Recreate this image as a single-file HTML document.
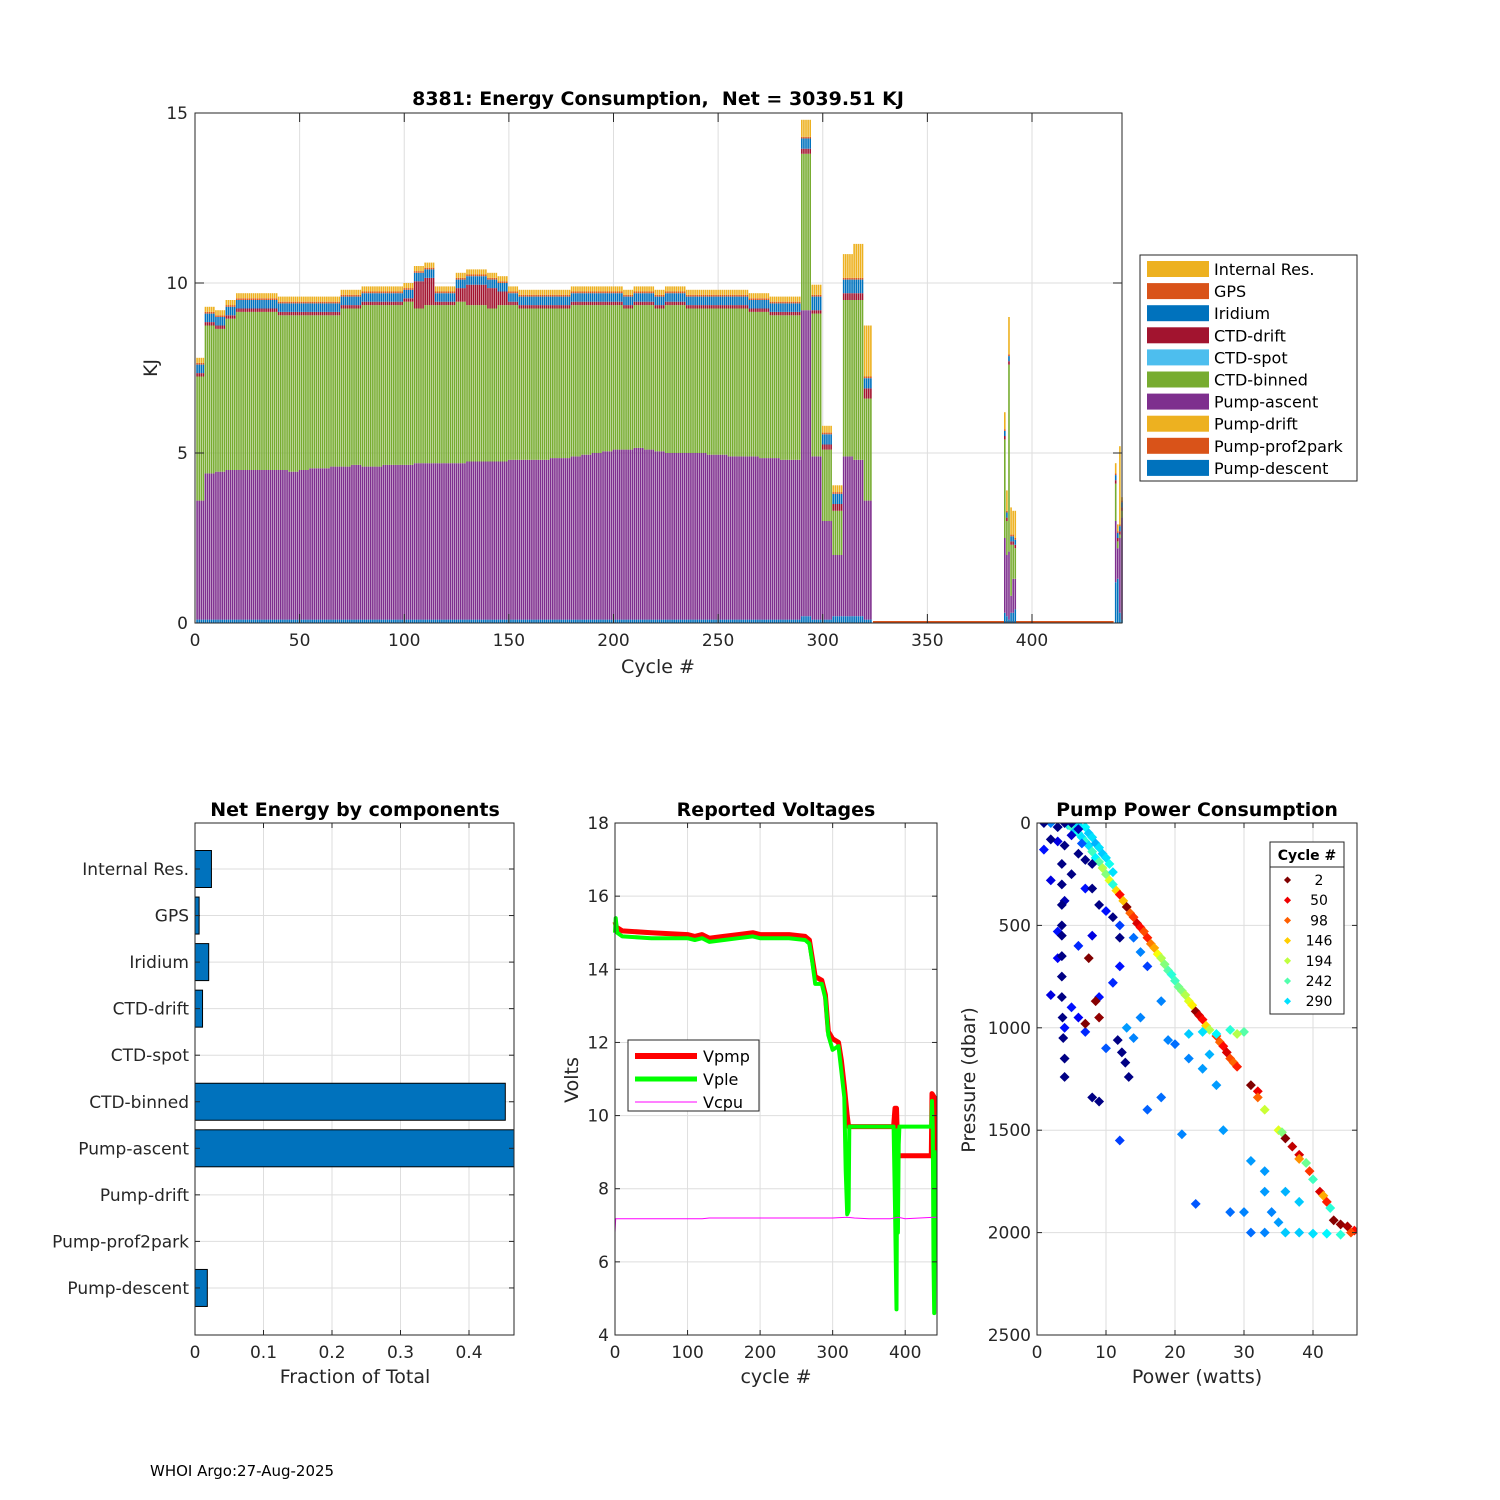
<!DOCTYPE html>
<html><head><meta charset="utf-8"><style>
html,body{margin:0;padding:0;background:#fff;}
svg{display:block;font-family:"DejaVu Sans","Liberation Sans",sans-serif;}
</style></head><body>
<svg id="fig" width="1500" height="1500" viewBox="0 0 1500 1500" xmlns="http://www.w3.org/2000/svg">
<rect width="1500" height="1500" fill="#fff"/>
<text x="150" y="1476" font-size="15" fill="#000">WHOI Argo:27-Aug-2025</text>
</svg>
<script>
// ===== Energy chart data (5-cycle blocks, cycles 1..323) =====
const blockAsc=[3.5,4.3,4.35,4.4,4.4,4.4,4.4,4.4,4.4,4.35,4.4,4.45,4.45,4.5,4.5,4.55,4.5,4.5,4.55,4.55,4.55,4.6,4.6,4.6,4.6,4.6,4.65,4.65,4.65,4.65,4.7,4.7,4.7,4.7,4.75,4.75,4.8,4.85,4.9,4.95,5.0,5.0,5.05,5.0,4.95,4.9,4.9,4.9,4.9,4.85,4.85,4.8,4.8,4.8,4.75,4.75,4.7,4.7,9.0,4.8,2.9,1.8,4.7,4.6,3.5];
const blockBinned=[3.65,4.35,4.2,4.45,4.65,4.65,4.65,4.65,4.55,4.6,4.55,4.5,4.5,4.45,4.65,4.6,4.75,4.75,4.7,4.7,4.8,4.55,4.65,4.65,4.65,4.75,4.6,4.6,4.5,4.6,4.55,4.45,4.45,4.45,4.4,4.4,4.45,4.4,4.35,4.3,4.25,4.15,4.2,4.25,4.2,4.35,4.35,4.25,4.25,4.3,4.3,4.35,4.35,4.25,4.3,4.2,4.25,4.25,4.6,4.2,2.1,1.3,4.6,4.7,3.0];
const blockDrift=[0.1,0.1,0.1,0.1,0.1,0.1,0.1,0.1,0.1,0.1,0.1,0.1,0.1,0.1,0.1,0.1,0.1,0.1,0.1,0.1,0.1,0.8,0.8,0.1,0.1,0.4,0.6,0.6,0.6,0.4,0.1,0.1,0.1,0.1,0.1,0.1,0.1,0.1,0.1,0.1,0.1,0.1,0.1,0.1,0.1,0.1,0.1,0.1,0.1,0.1,0.1,0.1,0.1,0.1,0.1,0.1,0.1,0.1,0.15,0.1,0.15,0.2,0.2,0.2,0.3];
const blockIrid=[0.25,0.25,0.25,0.25,0.25,0.25,0.25,0.25,0.25,0.25,0.25,0.25,0.25,0.25,0.25,0.25,0.25,0.25,0.25,0.25,0.25,0.25,0.25,0.25,0.25,0.25,0.25,0.25,0.25,0.25,0.25,0.25,0.25,0.25,0.25,0.25,0.25,0.25,0.25,0.25,0.25,0.25,0.25,0.25,0.25,0.25,0.25,0.25,0.25,0.25,0.25,0.25,0.25,0.25,0.25,0.25,0.25,0.25,0.3,0.4,0.3,0.3,0.4,0.4,0.3];
const blockResid=[0.15,0.15,0.15,0.15,0.15,0.15,0.15,0.15,0.15,0.15,0.15,0.15,0.15,0.15,0.15,0.15,0.15,0.15,0.15,0.15,0.15,0.15,0.15,0.15,0.15,0.15,0.15,0.15,0.15,0.15,0.15,0.15,0.15,0.15,0.15,0.15,0.15,0.15,0.15,0.15,0.15,0.15,0.15,0.15,0.15,0.15,0.15,0.15,0.15,0.15,0.15,0.15,0.15,0.15,0.15,0.15,0.15,0.15,0.5,0.3,0.2,0.2,0.7,1.0,1.5];
const blockDesc=[0.1,0.1,0.1,0.1,0.1,0.1,0.1,0.1,0.1,0.1,0.1,0.1,0.1,0.1,0.1,0.1,0.1,0.1,0.1,0.1,0.1,0.1,0.1,0.1,0.1,0.1,0.1,0.1,0.1,0.1,0.1,0.1,0.1,0.1,0.1,0.1,0.1,0.1,0.1,0.1,0.1,0.1,0.1,0.1,0.1,0.1,0.1,0.1,0.1,0.1,0.1,0.1,0.1,0.1,0.1,0.1,0.1,0.1,0.2,0.1,0.1,0.2,0.2,0.2,0.1];
const lastFullCycle=323;
const lateCyc=[387,388,389,390,391,392,440,441,442,443];
const lateDesc=[0.3,0.2,0.1,0.3,0.3,0.4,1.2,1.3,0.3,0.1];
const lateAsc=[2.2,1.8,2.0,0.5,1.0,0.9,1.8,0.9,2.2,3.0];
const lateBin=[2.9,1.0,5.5,1.5,1.0,0.9,1.1,0.2,0.1,0.2];
const lateResid=[0.5,0.6,1.1,0.8,0.7,0.8,0.3,0.2,2.3,0.1];
const energyXTicks=[0,50,100,150,200,250,300,350,400];
const energyYTicks=[0,5,10,15];
// ===== Fraction data =====
const compNames=["Internal Res.","GPS","Iridium","CTD-drift","CTD-spot","CTD-binned","Pump-ascent","Pump-drift","Pump-prof2park","Pump-descent"];
const compFrac=[0.024,0.006,0.020,0.011,0.0,0.453,0.47,0.0,0.0,0.018];
const fracTicks=[0,0.1,0.2,0.3,0.4];
// ===== Voltages =====
const pmpCyc=[0,2,10,50,100,110,120,130,150,170,190,200,240,262,268,272,276,285,290,294,300,308,312,316,320,322,323,384,386,388,390,392,436,437,440,441,443];
const pmpVal=[15.3,15.15,15.05,15.0,14.95,14.9,14.95,14.85,14.9,14.95,15.0,14.95,14.95,14.9,14.8,14.3,13.8,13.7,13.3,12.3,12.1,12.0,11.5,10.8,10.0,9.7,9.7,9.7,10.2,10.2,8.9,8.9,8.9,10.6,10.5,8.0,8.0];
const pleCyc=[0,1,3,10,50,100,110,120,130,150,170,190,200,240,262,268,272,276,285,290,294,300,308,312,316,318,320,322,323,384,386,388,389,390,391,392,436,437,438,439,440,441,443];
const pleVal=[15.0,15.4,15.0,14.9,14.85,14.85,14.8,14.85,14.75,14.8,14.85,14.9,14.85,14.85,14.8,14.7,14.2,13.6,13.6,13.2,12.2,11.8,11.9,11.2,10.5,8.5,7.3,7.4,9.7,9.7,7.5,4.7,9.6,6.8,9.2,9.7,9.7,10.4,9.6,6.0,4.6,9.0,9.0];
const cpuCyc=[0,1,120,130,200,250,300,320,330,350,380,390,400,420,440,443];
const cpuVal=[6.8,7.18,7.18,7.2,7.2,7.2,7.2,7.22,7.2,7.18,7.18,7.22,7.18,7.2,7.22,7.22];
const voltXTicks=[0,100,200,300,400];
const voltYTicks=[4,6,8,10,12,14,16,18];
// ===== Pump power scatter =====
const ptPower=[4.5,5,5.5,6,6.5,7,7.5,8,8.5,9,9.5,10,10.5,11,11.5,12,12.5,13,13.5,14,14.5,15,15.5,16,16.5,17,17.5,18,18.5,19,19.5,20,20.5,21,21.5,22,22.5,23,23.5,24,24.5,25,26,26.5,27,27.5,28,28.5,29,31,32,32,33,35,35.5,36,37,38,38,39,39.5,40,41,41.5,42,42.5,43,44,45,46,45.5,
6,7,7.5,8,8.5,9,9.5,10,10.5,11,22,24,26,28,30,29,36,38,40,42,44,
2,3,4,5,6,1,3,5,6.5,2,7,4,3,6,8,10,12,14,15,16,18,15,14,10,13,19,20,22,24,25,26,18,16,12,21,27,23,28,31,33,30,33,36,38,35,33,31,34,5,6,4,7,9,11,12,3,2,
1,3,2,4,3.6,3.6,3.6,3.6,3.6,3.6,3.6,3.6,3.7,3.8,4,4,5,7,8,9,11,12,11.7,12.3,12.8,13.3,8,9,6,8,
7.5,8.5,9,7];
const ptPress=[10,20,40,50,70,90,110,140,170,190,220,250,280,300,330,350,380,410,440,460,490,510,530,560,590,610,640,660,690,720,740,770,800,820,840,870,890,920,940,960,990,1010,1040,1070,1090,1120,1150,1170,1190,1280,1310,1340,1400,1500,1510,1540,1580,1620,1640,1660,1700,1740,1800,1820,1850,1880,1940,1960,1970,1990,2000,
10,20,50,70,100,120,150,170,200,240,1030,1020,1030,1010,1020,1030,2000,2000,2005,2005,2010,
0,20,0,0,30,130,90,60,100,280,320,380,530,600,550,430,500,560,630,700,870,950,1050,1100,1000,1060,1080,1150,1200,1130,1280,1340,1400,1550,1520,1500,1860,1900,1650,1700,1900,1800,1800,1850,1950,2000,2000,1900,900,950,1000,1020,850,780,700,660,840,
0,20,80,110,200,300,400,500,550,650,750,850,950,1050,1150,1240,250,180,320,400,460,560,1060,1120,1170,1240,1340,1360,150,200,
660,870,950,980];
const ptCycle=[290,250,300,270,290,260,290,250,280,240,200,220,180,260,150,60,140,2,100,80,40,60,90,70,110,130,170,200,220,240,260,250,230,220,200,180,160,10,40,60,150,200,80,100,60,40,90,100,70,2,50,100,190,180,220,5,30,40,120,230,80,250,40,130,70,260,5,10,20,60,90,
290,280,300,290,310,290,300,290,270,290,300,290,280,260,240,200,300,300,290,280,260,
330,350,440,430,420,380,400,410,350,400,380,420,380,370,400,380,360,340,330,360,330,330,330,350,320,330,340,330,320,310,320,340,345,360,330,320,350,340,320,320,330,320,310,300,320,330,340,330,380,390,380,370,380,370,380,390,400,
440,440,440,440,440,440,440,440,440,440,440,440,440,440,440,440,440,440,440,440,440,440,440,440,440,440,440,440,440,440,
2,5,10,2];
const legCycles=[2,50,98,146,194,242,290];
const powXTicks=[0,10,20,30,40];
const presYTicks=[0,500,1000,1500,2000,2500];

const NS="http://www.w3.org/2000/svg";
const fig=document.getElementById('fig');
function el(tag,attrs,parent){const e=document.createElementNS(NS,tag);for(const k in attrs)e.setAttribute(k,attrs[k]);(parent||fig).appendChild(e);return e;}
function txt(s,x,y,size,anchor,parent,extra){const t=el('text',Object.assign({x:x,y:y,'font-size':size,'text-anchor':anchor||'middle',fill:'#262626'},extra||{}),parent);t.textContent=s;return t;}
const GRID='#dedede',AX='#262626';

// ================= ENERGY CHART =================
const eL=195,eR=1122,eT=113,eB=623;
const xE=c=>eL+c*2.0925, yE=v=>eB-v*34;
const gE=el('g',{});


energyXTicks.forEach(t=>{el('line',{x1:xE(t),x2:xE(t),y1:eT,y2:eB,stroke:GRID},gE);});
energyYTicks.forEach(t=>{el('line',{x1:eL,x2:eR,y1:yE(t),y2:yE(t),stroke:GRID},gE);});
const cols={desc:'#0072BD',asc:'#7E2F8E',bin:'#77AC30',drift:'#A2142F',irid:'#0072BD',gps:'#D95319',resid:'#EDB120'};
const bw=1.6;
function stackBar(c,segs){let base=0;segs.forEach(s=>{if(s[0]<=0)return;const r=el('rect',{x:xE(c)-bw/2,y:yE(base+s[0]),width:bw,height:s[0]*34,fill:s[1]},gE);


base+=s[0];});}
blockAsc.forEach((a,b)=>{for(let k=0;k<5;k++){const c=b*5+k;if(c<1||c>lastFullCycle)continue;
stackBar(c,[[blockDesc[b],cols.desc],[a,cols.asc],[blockBinned[b],cols.bin],[blockDrift[b],cols.drift],[blockIrid[b],cols.irid],[0.05,cols.gps],[blockResid[b],cols.resid]]);}});
const zeroLine=el('line',{x1:xE(lastFullCycle+1),x2:xE(439),y1:eB-1,y2:eB-1,stroke:'#D95319','stroke-width':2},gE);


lateCyc.forEach((c,i)=>{stackBar(c,[[lateDesc[i],cols.desc],[lateAsc[i],cols.asc],[lateBin[i],cols.bin],[0.1,cols.drift],[0.15,cols.irid],[0.05,cols.gps],[lateResid[i],cols.resid]]);});
el('rect',{x:eL,y:eT,width:eR-eL,height:eB-eT,fill:'none',stroke:AX,'stroke-width':1},gE);
energyXTicks.forEach(t=>{el('line',{x1:xE(t),x2:xE(t),y1:eB,y2:eB-9,stroke:AX},gE);el('line',{x1:xE(t),x2:xE(t),y1:eT,y2:eT+9,stroke:AX},gE);
const l=txt(String(t),xE(t),eB+23,17,'middle',gE);

});
energyYTicks.forEach(t=>{el('line',{x1:eL,x2:eL+9,y1:yE(t),y2:yE(t),stroke:AX},gE);el('line',{x1:eR,x2:eR-9,y1:yE(t),y2:yE(t),stroke:AX},gE);
const l=txt(String(t),eL-7,yE(t)+6,17,'end',gE);

});
const eTitle=txt('8381: Energy Consumption,\u00a0 Net = 3039.51 KJ',658,105,19,'middle',gE,{'font-weight':'bold',fill:'#000'});


const eXl=txt('Cycle #',658,673,19,'middle',gE);


const eYl=txt('KJ',0,0,19,'middle',gE,{transform:'translate(157,368) rotate(-90)'});


// legend
const legE=el('g',{});


el('rect',{x:1140,y:255,width:217,height:226,fill:'#fff',stroke:AX},legE);
const legCols=['#EDB120','#D95319','#0072BD','#A2142F','#4DBEEE','#77AC30','#7E2F8E','#EDB120','#D95319','#0072BD'];
compNames.forEach((n,i)=>{const y=269+i*22.1;el('rect',{x:1147,y:y-8,width:62,height:16,fill:legCols[i]},legE);
const l=txt(n,1214,y+6,16,'start',legE,{fill:'#000'});

});

// ================= FRACTION CHART =================
const fL=195,fR=514,fT=823,fB=1335;
const xF=v=>fL+v*685, yF=i=>869+i*46.55;
const gF=el('g',{});


fracTicks.forEach(t=>el('line',{x1:xF(t),x2:xF(t),y1:fT,y2:fB,stroke:GRID},gF));
compNames.forEach((n,i)=>el('line',{x1:fL,x2:fR,y1:yF(i),y2:yF(i),stroke:GRID},gF));
compFrac.forEach((v,i)=>{if(v<=0)return;const w=Math.min(xF(v),fR)-fL;const r=el('rect',{x:fL,y:yF(i)-18.5,width:w,height:37,fill:'#0072BD',stroke:'#000','stroke-width':1},gF);

});
el('rect',{x:fL,y:fT,width:fR-fL,height:fB-fT,fill:'none',stroke:AX},gF);
fracTicks.forEach(t=>{el('line',{x1:xF(t),x2:xF(t),y1:fB,y2:fB-5,stroke:AX},gF);el('line',{x1:xF(t),x2:xF(t),y1:fT,y2:fT+5,stroke:AX},gF);
const l=txt(String(t),xF(t),fB+23,17,'middle',gF);

});
compNames.forEach((n,i)=>{el('line',{x1:fL,x2:fL+5,y1:yF(i),y2:yF(i),stroke:AX},gF);el('line',{x1:fR,x2:fR-5,y1:yF(i),y2:yF(i),stroke:AX},gF);
const l=txt(n,189,yF(i)+6,17,'end',gF);

});
const fTitle=txt('Net Energy by components',355,816,19,'middle',gF,{'font-weight':'bold',fill:'#000'});


const fXl=txt('Fraction of Total',355,1383,19,'middle',gF);



// ================= VOLTAGE CHART =================
const vL=615,vR=937,vT=823,vB=1335;
const xV=c=>vL+c*0.7255, yV=v=>vB-(v-4)*36.57;
const gV=el('g',{});


voltXTicks.forEach(t=>el('line',{x1:xV(t),x2:xV(t),y1:vT,y2:vB,stroke:GRID},gV));
voltYTicks.forEach(t=>el('line',{x1:vL,x2:vR,y1:yV(t),y2:yV(t),stroke:GRID},gV));
function poly(xs,ys,color,w,name){const p=el('polyline',{points:xs.map((c,i)=>xV(c).toFixed(1)+','+yV(ys[i]).toFixed(1)).join(' '),fill:'none',stroke:color,'stroke-width':w,'stroke-linejoin':'round'},gV);

}
poly(pmpCyc,pmpVal,'#ff0000',5,'vpmp-line');
poly(pleCyc,pleVal,'#00ff00',4,'vple-line');
poly(cpuCyc,cpuVal,'#ff00ff',1,'vcpu-line');
el('rect',{x:vL,y:vT,width:vR-vL,height:vB-vT,fill:'none',stroke:AX},gV);
voltXTicks.forEach(t=>{el('line',{x1:xV(t),x2:xV(t),y1:vB,y2:vB-5,stroke:AX},gV);el('line',{x1:xV(t),x2:xV(t),y1:vT,y2:vT+5,stroke:AX},gV);
const l=txt(String(t),xV(t),vB+23,17,'middle',gV);

});
voltYTicks.forEach(t=>{el('line',{x1:vL,x2:vL+5,y1:yV(t),y2:yV(t),stroke:AX},gV);el('line',{x1:vR,x2:vR-5,y1:yV(t),y2:yV(t),stroke:AX},gV);
const l=txt(String(t),vL-6,yV(t)+6,17,'end',gV);

});
const vTitle=txt('Reported Voltages',776,816,19,'middle',gV,{'font-weight':'bold',fill:'#000'});


const vXl=txt('cycle #',776,1383,19,'middle',gV);


const vYl=txt('Volts',0,0,19,'middle',gV,{transform:'translate(578,1080) rotate(-90)'});


const legV=el('g',{});


el('rect',{x:628,y:1040,width:131,height:71,fill:'#fff',stroke:AX},legV);
[['Vpmp','#ff0000',6,1056],['Vple','#00ff00',5,1079],['Vcpu','#ff00ff',1,1102]].forEach(e=>{el('line',{x1:635,x2:697,y1:e[3],y2:e[3],stroke:e[1],'stroke-width':e[2]},legV);
const l=txt(e[0],703,e[3]+6,16,'start',legV,{fill:'#000'});

});

// ================= PUMP POWER SCATTER =================
const pL=1037,pR=1357,pT=823,pB=1335;
const xP=w=>pL+w*6.9, yP=p=>pT+p*0.2048;
const gP=el('g',{});


powXTicks.forEach(t=>el('line',{x1:xP(t),x2:xP(t),y1:pT,y2:pB,stroke:GRID},gP));
presYTicks.forEach(t=>el('line',{x1:pL,x2:pR,y1:yP(t),y2:yP(t),stroke:GRID},gP));
function jet(t){const r=Math.min(Math.max(Math.min(4*t-1.5,-4*t+4.5),0),1),g=Math.min(Math.max(Math.min(4*t-0.5,-4*t+3.5),0),1),b=Math.min(Math.max(Math.min(4*t+0.5,-4*t+2.5),0),1);return 'rgb('+Math.round(r*255)+','+Math.round(g*255)+','+Math.round(b*255)+')';}
const cycColor=c=>jet(1-(c-2)/440);
const cp=el('clipPath',{id:'pclip'},gP);el('rect',{x:pL,y:pT,width:pR-pL,height:pB-pT},cp);
const gPts=el('g',{'clip-path':'url(#pclip)'},gP);
ptPower.forEach((w,i)=>{const m=el('rect',{x:xP(w)-3.5,y:yP(ptPress[i])-3.5,width:7,height:7,fill:cycColor(ptCycle[i]),transform:'rotate(45 '+xP(w)+' '+yP(ptPress[i])+')'},gPts);

});
el('rect',{x:pL,y:pT,width:pR-pL,height:pB-pT,fill:'none',stroke:AX},gP);
powXTicks.forEach(t=>{el('line',{x1:xP(t),x2:xP(t),y1:pB,y2:pB-5,stroke:AX},gP);el('line',{x1:xP(t),x2:xP(t),y1:pT,y2:pT+5,stroke:AX},gP);
const l=txt(String(t),xP(t),pB+23,17,'middle',gP);

});
presYTicks.forEach(t=>{el('line',{x1:pL,x2:pL+5,y1:yP(t),y2:yP(t),stroke:AX},gP);el('line',{x1:pR,x2:pR-5,y1:yP(t),y2:yP(t),stroke:AX},gP);
const l=txt(String(t),pL-6,yP(t)+6,17,'end',gP);

});
const pTitle=txt('Pump Power Consumption',1197,816,19,'middle',gP,{'font-weight':'bold',fill:'#000'});


const pXl=txt('Power (watts)',1197,1383,19,'middle',gP);


const pYl=txt('Pressure (dbar)',0,0,19,'middle',gP,{transform:'translate(975,1080) rotate(-90)'});


const legP=el('g',{});


el('rect',{x:1270,y:842,width:74,height:172,fill:'#fff',stroke:AX},legP);
el('line',{x1:1270,x2:1344,y1:867,y2:867,stroke:AX},legP);
const lt=txt('Cycle #',1307,860,14,'middle',legP,{'font-weight':'bold',fill:'#000'});


legCycles.forEach((c,i)=>{const y=880+i*20.2;el('rect',{x:1285,y:y-2.5,width:5,height:5,fill:cycColor(c),transform:'rotate(45 1287.5 '+y+')'},legP);
const l=txt(String(c),1319,y+5,14,'middle',legP,{fill:'#000'});

});
</script>
</body></html>
